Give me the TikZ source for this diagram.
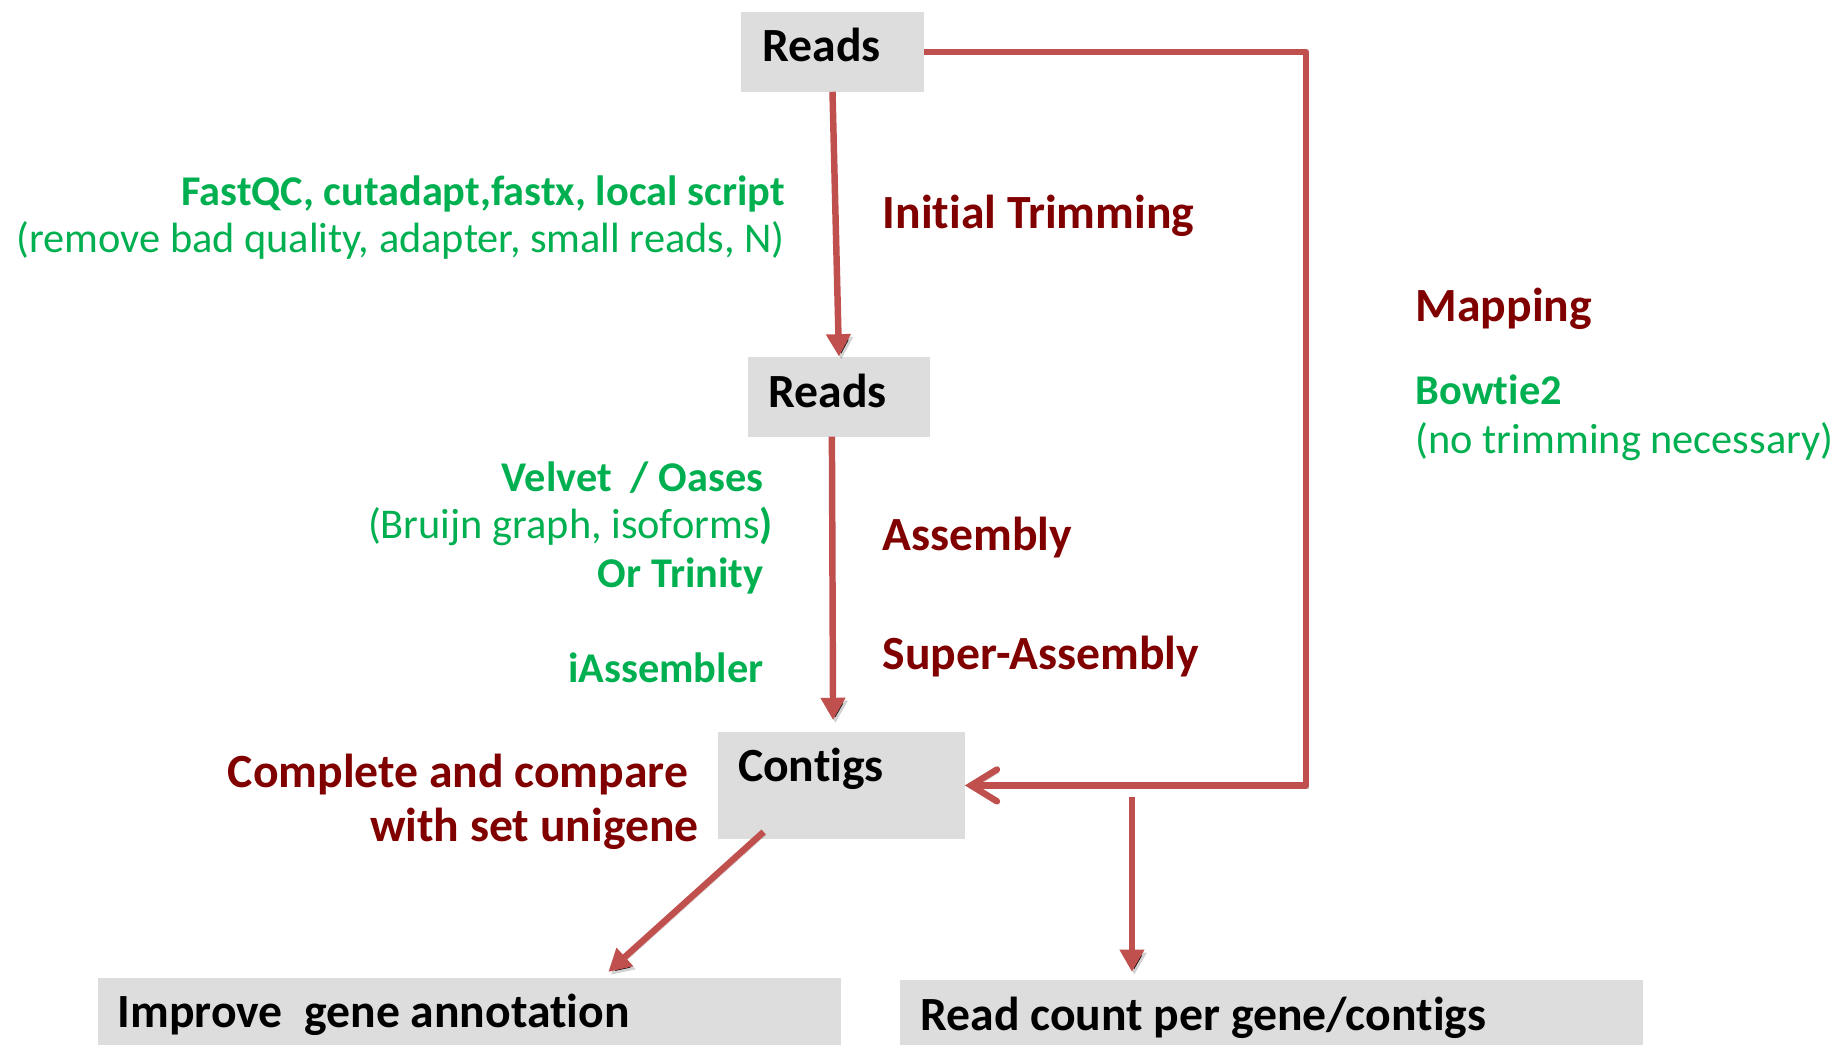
\documentclass[tikz,border=0pt]{standalone}
\usepackage{fontspec}
\setmainfont{Carlito}[Ligatures=NoCommon]
\usetikzlibrary{arrows.meta}
\definecolor{arrred}{HTML}{C0504D}
\definecolor{dred}{HTML}{800000}
\definecolor{tgreen}{HTML}{00B050}
\definecolor{boxgray}{HTML}{DDDDDD}
\begin{document}
\begin{tikzpicture}[x=1pt,y=-1pt,
  box/.style={fill=boxgray, draw=none, inner sep=0pt, outer sep=0pt},
  boxtxt/.style={font=\fontsize{40.5}{48}\selectfont\bfseries, text=black, inner sep=0pt, anchor=base west},
  redlbl/.style={font=\fontsize{40.5}{48}\selectfont\bfseries, text=dred, inner sep=0pt},
  grnb/.style={font=\fontsize{36}{43}\selectfont\bfseries, text=tgreen, inner sep=0pt},
  grnr/.style={font=\fontsize{36}{43}\selectfont, text=tgreen, inner sep=0pt},
  shad/.style={preaction={draw=black, draw opacity=0.18, transform canvas={shift={(2pt,-2.5pt)}}}},
  flow/.style={shad, draw=arrred, line width=5.5pt, -{Triangle[length=19pt,width=20pt]}},
  mapflow/.style={shad, draw=arrred, line width=5.5pt, line join=round, -{Straight Barb[length=22pt,width=27pt,line cap=round]}}
]
\useasboundingbox (0,0) rectangle (1568,888);
% boxes
\node[box, minimum width=155pt, minimum height=68pt] (r1) at (707.5,44) {};
\node[box, minimum width=154pt, minimum height=68pt] (r2) at (713,337) {};
\node[box, minimum width=210pt, minimum height=91pt] (ct) at (715,667.5) {};
\node[box, minimum width=632pt, minimum height=57pt] (im) at (399,859.5) {};
\node[box, minimum width=631pt, minimum height=55pt] (rc) at (1080.5,860.5) {};
% box texts
\node[boxtxt] (r1t) at (648,52) {Reads};
\node[boxtxt] (r2t) at (653,346) {Reads};
\node[boxtxt] (ctt) at (627,664) {Contigs};
\node[boxtxt] (imt) at (100,873) {Improve\ \ gene annotation};
\node[boxtxt] (rct) at (782,876) {Read count per gene/contigs};
% labels
\node[grnb, anchor=base east] (fq1) at (667,175) {FastQC, cutadapt,fastx, local script};
\node[grnr, anchor=base east] (fq2) at (667,215) {(remove bad quality, adapter, small reads, N)};
\node[redlbl, anchor=base west] (trim) at (750,194) {Initial Trimming};
\node[redlbl, anchor=base west] (map) at (1203,273) {Mapping};
\node[grnb, anchor=base west] (bt) at (1203,344) {Bowtie2};
\node[grnr, anchor=base west] (btn) at (1203,385) {(no trimming necessary)};
\node[grnb, anchor=base east] (vo) at (649,418) {Velvet\ \ / Oases};
\node[grnr, anchor=base east] (bg) at (657,458) {(Bruijn graph, isoforms\textbf{)}};
\node[grnb, anchor=base east] (tr) at (649,499) {Or Trinity};
\node[grnb, anchor=base east] (ia) at (649,580) {iAssembler};
\node[redlbl, anchor=base west] (asm) at (750,468) {Assembly};
\node[redlbl, anchor=base west] (sasm) at (750,569) {Super-Assembly};
\node[redlbl, anchor=base east] (cc1) at (585,669) {Complete and compare};
\node[redlbl, anchor=base east] (cc2) at (594,715) {with set unigene};
% connectors
\draw[flow] (r1.south) -- (r2.north);
\draw[flow] ([xshift=-6pt]r2.south) -- ([xshift=-7pt,yshift=10pt]ct.north);
\coordinate (mapx) at (1110,0);
\draw[mapflow] (r1.east) -- (r1.east -| mapx) -- (ct.east -| mapx) -- (ct.east);
\coordinate (br) at (962,677);
\coordinate (brend) at (962,826);
\draw[flow] (br) -- (brend);
\coordinate (dg) at (649,707);
\coordinate (dgend) at (517,826);
\draw[flow] (dg) -- (dgend);
\end{tikzpicture}
\end{document}
